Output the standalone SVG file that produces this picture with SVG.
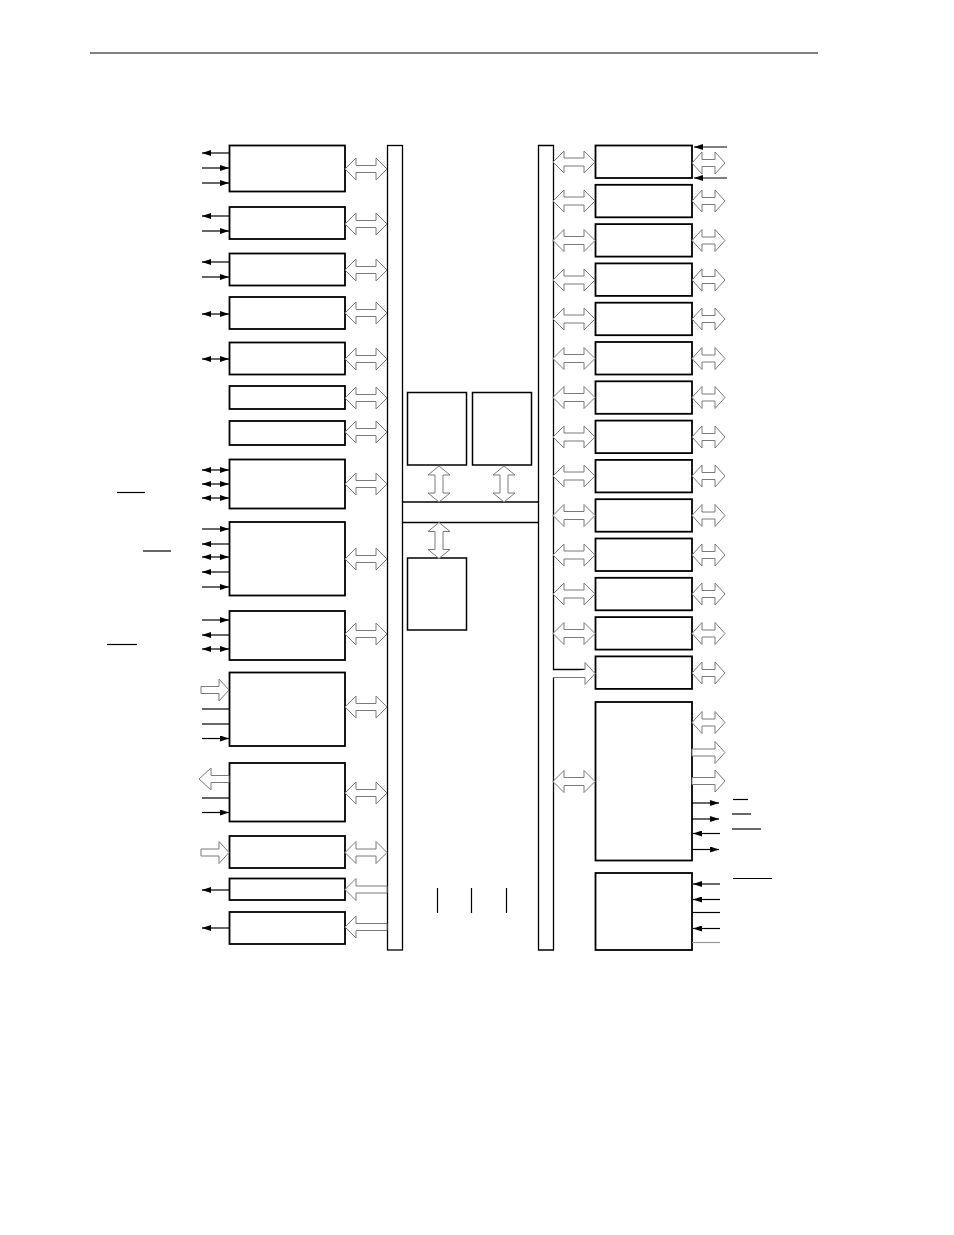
<svg xmlns="http://www.w3.org/2000/svg" xmlns:xlink="http://www.w3.org/1999/xlink" width="954" height="1235" viewBox="0 0 954 1235">
<style>
.box{fill:#fff;stroke:#000;stroke-width:1.8}
.sbox{fill:#fff;stroke:#000;stroke-width:1.5}
.bus{fill:none;stroke:#000;stroke-width:1.3}
.ar{fill:#fff;stroke:#7a7a7a;stroke-width:1}
.pin{stroke:#000;stroke-width:1.2;fill:none}
.pg{stroke:#999;stroke-width:1.2;fill:none}
.ol{stroke:#000;stroke-width:1.2}
.in{marker-end:url(#ah)}
.bi{marker-start:url(#ah);marker-end:url(#ah)}
</style>
<defs>
<marker id="ah" markerUnits="userSpaceOnUse" markerWidth="9" markerHeight="6" refX="9" refY="3" orient="auto-start-reverse"><path d="M0,0 L9,3 L0,6 Z" fill="#000"/></marker>
<path id="dblL" class="ar" d="M0,0 L11,-11 L11,-3.5 L31,-3.5 L31,-11 L42,0 L31,11 L31,3.5 L11,3.5 L11,11 Z"/>
<path id="dblB" class="ar" d="M0,0 L11,-11 L11,-4 L31,-4 L31,-11 L42,0 L31,11 L31,4 L11,4 L11,11 Z"/>
<path id="dblR" class="ar" d="M0,0 L10,-11 L10,-3.5 L23,-3.5 L23,-11 L33,0 L23,11 L23,3.5 L10,3.5 L10,11 Z"/>
<path id="dblV" class="ar" d="M0,0 L11,9 L4,9 L4,27 L11,27 L0,36 L-11,27 L-4,27 L-4,9 L-11,9 Z"/>
<path id="sglL" class="ar" d="M0,0 L11,-11 L11,-3.5 L42,-3.5 L42,3.5 L11,3.5 L11,11 Z"/>
<path id="openIn" class="ar" d="M-28,-3.5 L-10,-3.5 L-10,-11 L0,0 L-10,11 L-10,3.5 L-28,3.5 Z"/>
<path id="openOut" class="ar" d="M0,0 L12,-11 L12,-3.5 L30,-3.5 L30,3.5 L12,3.5 L12,11 Z"/>
<path id="openR" class="ar" d="M0,-3.5 L23,-3.5 L23,-11 L33,0 L23,11 L23,3.5 L0,3.5 Z"/>
</defs>
<rect width="954" height="1235" fill="#fff"/>
<line x1="90" y1="53" x2="818" y2="53" stroke="#000" stroke-width="1"/>

<g id="buses">
<rect class="bus" x="387.5" y="145.5" width="15" height="804.5"/>
<path class="bus" d="M553.5,677.5 L553.5,950 L538.5,950 L538.5,145.5 L553.5,145.5 L553.5,669.5 L585,669.5"/>
<line class="bus" x1="402.5" y1="502" x2="538.5" y2="502"/>
<line class="bus" x1="402.5" y1="522.5" x2="538.5" y2="522.5"/>
</g>

<g id="core">
<rect id="m1" class="sbox" x="407.5" y="392.5" width="59" height="72.5"/>
<rect id="m2" class="sbox" x="472.5" y="392.5" width="59" height="72.5"/>
<rect id="m3" class="sbox" x="407.5" y="558" width="59" height="72"/>
<line class="pin" x1="437.5" y1="888" x2="437.5" y2="913"/>
<line class="pin" x1="471.5" y1="888" x2="471.5" y2="913"/>
<line class="pin" x1="506.5" y1="888" x2="506.5" y2="913"/>
</g>

<g id="left-blocks">
<rect id="L1" class="box" x="229.5" y="145.5" width="115.5" height="46"/>
<rect id="L2" class="box" x="229.5" y="207" width="115.5" height="32"/>
<rect id="L3" class="box" x="229.5" y="253.5" width="115.5" height="32"/>
<rect id="L4" class="box" x="229.5" y="297" width="115.5" height="32"/>
<rect id="L5" class="box" x="229.5" y="342.5" width="115.5" height="32"/>
<rect id="L6" class="box" x="229.5" y="386" width="115.5" height="23"/>
<rect id="L7" class="box" x="229.5" y="421" width="115.5" height="24"/>
<rect id="L8" class="box" x="229.5" y="459.5" width="115.5" height="49"/>
<rect id="L9" class="box" x="229.5" y="522" width="115.5" height="73.5"/>
<rect id="L10" class="box" x="229.5" y="611" width="115.5" height="49"/>
<rect id="L11" class="box" x="229.5" y="672.5" width="115.5" height="73.5"/>
<rect id="L12" class="box" x="229.5" y="763" width="115.5" height="58.5"/>
<rect id="L13" class="box" x="229.5" y="836" width="115.5" height="32"/>
<rect id="L14" class="box" x="229.5" y="878.5" width="115.5" height="21.5"/>
<rect id="L15" class="box" x="229.5" y="912" width="115.5" height="32"/>
</g>

<g id="right-blocks">
<rect id="R1" class="box" x="595.5" y="145.5" width="96.5" height="32.5"/>
<rect id="R2" class="box" x="595.5" y="184.8" width="96.5" height="32.5"/>
<rect id="R3" class="box" x="595.5" y="224.1" width="96.5" height="32.5"/>
<rect id="R4" class="box" x="595.5" y="263.4" width="96.5" height="32.5"/>
<rect id="R5" class="box" x="595.5" y="302.7" width="96.5" height="32.5"/>
<rect id="R6" class="box" x="595.5" y="342" width="96.5" height="32.5"/>
<rect id="R7" class="box" x="595.5" y="381.3" width="96.5" height="32.5"/>
<rect id="R8" class="box" x="595.5" y="420.6" width="96.5" height="32.5"/>
<rect id="R9" class="box" x="595.5" y="459.9" width="96.5" height="32.5"/>
<rect id="R10" class="box" x="595.5" y="499.2" width="96.5" height="32.5"/>
<rect id="R11" class="box" x="595.5" y="538.5" width="96.5" height="32.5"/>
<rect id="R12" class="box" x="595.5" y="577.8" width="96.5" height="32.5"/>
<rect id="R13" class="box" x="595.5" y="617.1" width="96.5" height="32.5"/>
<rect id="R14" class="box" x="595.5" y="656.4" width="96.5" height="32.5"/>
<rect id="R15" class="box" x="595.5" y="702" width="96.5" height="158.5"/>
<rect id="R16" class="box" x="595.5" y="873" width="96.5" height="77"/>
</g>

<g id="connectors">
<!-- left bus arrows -->
<use xlink:href="#dblL" x="345" y="169"/>
<use xlink:href="#dblL" x="345" y="224"/>
<use xlink:href="#dblL" x="345" y="270"/>
<use xlink:href="#dblL" x="345" y="313"/>
<use xlink:href="#dblL" x="345" y="359"/>
<use xlink:href="#dblL" x="345" y="398"/>
<use xlink:href="#dblL" x="345" y="432"/>
<use xlink:href="#dblL" x="345" y="484"/>
<use xlink:href="#dblL" x="345" y="559"/>
<use xlink:href="#dblL" x="345" y="634"/>
<use xlink:href="#dblL" x="345" y="707"/>
<use xlink:href="#dblL" x="345" y="793"/>
<use xlink:href="#dblL" x="345" y="852.5"/>
<use xlink:href="#sglL" x="345" y="889.5"/>
<use xlink:href="#sglL" x="345" y="927"/>
<!-- core arrows -->
<use xlink:href="#dblV" x="439" y="466"/>
<use xlink:href="#dblV" x="504" y="466"/>
<use xlink:href="#dblV" x="439" y="522.5"/>
<!-- right bus arrows -->
<use xlink:href="#dblB" x="553" y="162"/>
<use xlink:href="#dblB" x="553" y="201"/>
<use xlink:href="#dblB" x="553" y="240.5"/>
<use xlink:href="#dblB" x="553" y="280"/>
<use xlink:href="#dblB" x="553" y="319"/>
<use xlink:href="#dblB" x="553" y="358.5"/>
<use xlink:href="#dblB" x="553" y="397.5"/>
<use xlink:href="#dblB" x="553" y="437"/>
<use xlink:href="#dblB" x="553" y="476"/>
<use xlink:href="#dblB" x="553" y="515.5"/>
<use xlink:href="#dblB" x="553" y="555"/>
<use xlink:href="#dblB" x="553" y="594"/>
<use xlink:href="#dblB" x="553" y="633.5"/>
<use xlink:href="#dblB" x="553" y="781.5"/>
<path class="ar" fill="none" d="M585,669.5 L585,662.5 L595,673.5 L585,684.5 L585,677.5 L553.5,677.5"/>
<!-- right outer arrows -->
<use xlink:href="#dblR" x="692" y="163"/>
<use xlink:href="#dblR" x="692" y="201"/>
<use xlink:href="#dblR" x="692" y="240.5"/>
<use xlink:href="#dblR" x="692" y="280"/>
<use xlink:href="#dblR" x="692" y="319"/>
<use xlink:href="#dblR" x="692" y="358.5"/>
<use xlink:href="#dblR" x="692" y="397.5"/>
<use xlink:href="#dblR" x="692" y="437"/>
<use xlink:href="#dblR" x="692" y="476"/>
<use xlink:href="#dblR" x="692" y="515.5"/>
<use xlink:href="#dblR" x="692" y="555"/>
<use xlink:href="#dblR" x="692" y="594"/>
<use xlink:href="#dblR" x="692" y="633.5"/>
<use xlink:href="#dblR" x="692" y="673"/>
<use xlink:href="#dblR" x="692" y="722.5"/>
<use xlink:href="#openR" x="692" y="752.5"/>
<use xlink:href="#openR" x="692" y="781"/>
<!-- left pins -->
<line class="pin in" x1="229" y1="153" x2="202" y2="153"/>
<line class="pin in" x1="202" y1="168" x2="229" y2="168"/>
<line class="pin in" x1="202" y1="183" x2="229" y2="183"/>
<line class="pin in" x1="229" y1="216" x2="202" y2="216"/>
<line class="pin in" x1="202" y1="231" x2="229" y2="231"/>
<line class="pin in" x1="229" y1="262" x2="202" y2="262"/>
<line class="pin in" x1="202" y1="277" x2="229" y2="277"/>
<line class="pin bi" x1="202" y1="314" x2="229" y2="314"/>
<line class="pin bi" x1="202" y1="359" x2="229" y2="359"/>
<line class="pin bi" x1="202" y1="470" x2="229" y2="470"/>
<line class="pin bi" x1="202" y1="484" x2="229" y2="484"/>
<line class="pin bi" x1="202" y1="498" x2="229" y2="498"/>
<line class="pin in" x1="202" y1="529" x2="229" y2="529"/>
<line class="pin in" x1="229" y1="544" x2="202" y2="544"/>
<line class="pin bi" x1="202" y1="557" x2="229" y2="557"/>
<line class="pin in" x1="229" y1="572" x2="202" y2="572"/>
<line class="pin in" x1="202" y1="587" x2="229" y2="587"/>
<line class="pin in" x1="202" y1="620" x2="229" y2="620"/>
<line class="pin in" x1="229" y1="635" x2="202" y2="635"/>
<line class="pin bi" x1="202" y1="649" x2="229" y2="649"/>
<use xlink:href="#openIn" x="229" y="690"/>
<line class="pin" x1="202" y1="709" x2="229" y2="709"/>
<line class="pin" x1="202" y1="724" x2="229" y2="724"/>
<line class="pin in" x1="202" y1="738.5" x2="229" y2="738.5"/>
<use xlink:href="#openOut" x="199" y="779"/>
<line class="pin" x1="202" y1="798" x2="229" y2="798"/>
<line class="pin in" x1="202" y1="812.5" x2="229" y2="812.5"/>
<use xlink:href="#openIn" x="229" y="852.5"/>
<line class="pin in" x1="229" y1="890" x2="202" y2="890"/>
<line class="pin in" x1="229" y1="928" x2="202" y2="928"/>
<!-- right pins -->
<line class="pin in" x1="727" y1="147" x2="694" y2="147"/>
<line class="pin in" x1="727" y1="178" x2="694" y2="178"/>
<line class="pin in" x1="692" y1="803" x2="719" y2="803"/>
<line class="pin in" x1="692" y1="819" x2="719" y2="819"/>
<line class="pin in" x1="720" y1="833.5" x2="693" y2="833.5"/>
<line class="pin in" x1="692" y1="849.5" x2="719" y2="849.5"/>
<line class="pin in" x1="720" y1="884" x2="693" y2="884"/>
<line class="pin in" x1="720" y1="899.5" x2="693" y2="899.5"/>
<line class="pin" x1="692" y1="912.5" x2="720" y2="912.5"/>
<line class="pin in" x1="720" y1="928.5" x2="693" y2="928.5"/>
<line class="pg" x1="692" y1="942.5" x2="720" y2="942.5"/>
</g>

<g id="overlines">
<line class="ol" x1="117" y1="492.5" x2="145" y2="492.5"/>
<line class="ol" x1="143" y1="551" x2="171" y2="551"/>
<line class="ol" x1="107" y1="644.5" x2="137" y2="644.5"/>
<line class="ol" x1="733" y1="799.5" x2="748" y2="799.5"/>
<line class="ol" x1="732" y1="814" x2="751" y2="814"/>
<line class="ol" x1="732" y1="829" x2="761" y2="829"/>
<line class="ol" x1="733" y1="878.5" x2="772" y2="878.5"/>
</g>
</svg>
